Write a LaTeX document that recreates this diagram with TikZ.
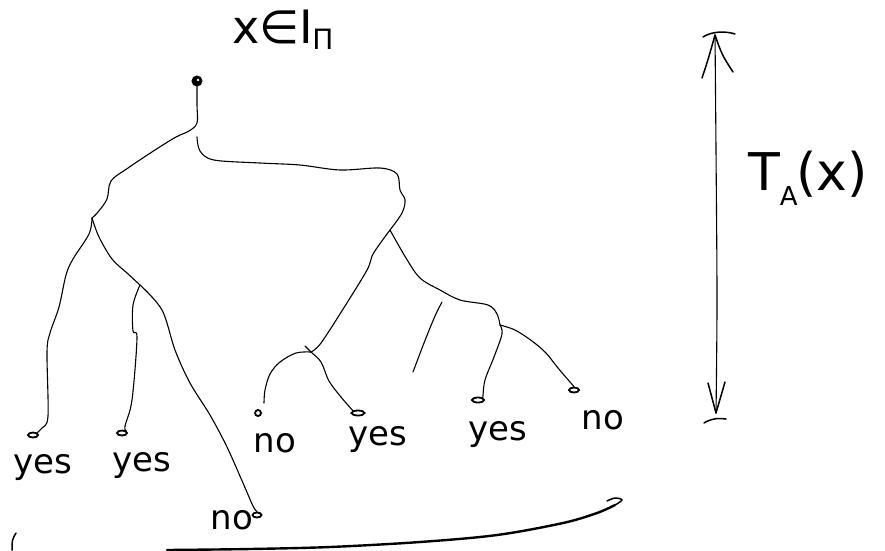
\documentclass[tikz,border=0pt]{standalone}
\usepackage{fontspec}
\setmainfont{DejaVu Sans}
\usetikzlibrary{shapes.geometric}
\begin{document}
\begin{tikzpicture}[x=1pt,y=-1pt,
  branch/.style={line width=1.1pt, line cap=round, line join=round},
  pen/.style={line width=1.5pt, line cap=round, line join=round},
  leaf/.style={ellipse, draw, line width=1.8pt, minimum width=10pt, minimum height=5pt, inner sep=0pt},
  rootdot/.style={circle, draw, fill=black, line width=1pt, minimum size=10pt, inner sep=0pt},
  answer/.style={font=\fontsize{34}{34}\selectfont, inner sep=0pt},
  hand/.style={smooth, tension=0.55}
]
\useasboundingbox[fill=white] (0,0) rectangle (885,550);

% ---- root and its label
\node[rootdot] (root) at (197,81) {};
\fill[white] (root.center) ++(1,-1) circle (1.3pt);
\node[inner sep=0pt] (title) at (283,30)
  {\fontsize{46}{46}\selectfont x∈I\kern-1pt\raisebox{-6pt}{\fontsize{28}{28}\selectfont Π}};

% ---- inner branching points
\coordinate (rootR) at (197,137);
\coordinate (A) at (92,218);
\coordinate (C) at (140,285);
\coordinate (B) at (390,230);
\coordinate (E) at (311,352);
\coordinate (F) at (500,325);

% ---- leaves
\node[leaf] (L1) at (33,435) {};
\node[leaf] (L2) at (122,433) {};
\node[leaf, minimum width=9pt] (L3) at (257,515) {};
\node[leaf, minimum width=6pt, minimum height=6pt] (L4) at (258,413) {};
\node[leaf, minimum width=13pt] (L5) at (358,413) {};
\node[leaf, minimum width=12pt] (L6) at (478,400) {};
\node[leaf] (L7) at (574,390) {};
\coordinate (L4end) at (264,403);

% ---- leaf answers
\node[answer] (a1) at (43,468) {yes};
\node[answer] (a2) at (142,466) {yes};
\node[answer] (a3) at (232,520) {no};
\node[answer] (a4) at (275,443) {no};
\node[answer] (a5) at (378,440) {yes};
\node[answer] (a6) at (498,435) {yes};
\node[answer] (a7) at (603,420) {no};

% ---- branches
\draw[branch] plot[hand] coordinates {(root.south) (197,105) (197,123) (189,131) (176,137) (155,150) (128,168) (111,181) (107,199) (98,212) (A)};
\draw[branch] plot[hand] coordinates {(rootR) (200,151) (214,160) (260,163) (300,165) (340,170) (380,168) (397,174) (400,190) (405,200) (402,213) (B)};
\draw[branch] plot[hand] coordinates {(A) (89,234) (73,259) (66,275) (59,307) (50,333) (47,352) (48,416) (42,428) (L1.north east)};
\draw[branch] plot[hand] coordinates {(A) (99,237) (112,259) (127,273) (C)};
\draw[branch] plot[hand] coordinates {(C) (133,305) (133,331) (137,338) (132,400) (125,426) (L2.north east)};
\draw[branch] plot[hand] coordinates {(C) (162,310) (175,350) (190,383) (210,415) (227,447) (243,483) (253,506) (L3.north)};
\draw[branch] plot[hand] coordinates {(B) (379,245) (372,256) (367,270) (345,306) (321,343) (E)};
\draw[branch] plot[hand] coordinates {(B) (406,258) (420,278) (440,290) (460,300) (488,305) (497,314) (F)};
\draw[branch] plot[hand] coordinates {(E) (296,353) (280,362) (270,374) (265,390) (L4end)};
\draw[branch] plot[hand] coordinates {(305,346) (E) (321,362) (329,381) (341,397) (L5.north west)};
\draw[branch] plot[hand] coordinates {(F) (502,334) (494,357) (485,380) (L6.north east)};
\draw[branch] plot[hand] coordinates {(F) (515,330) (532,341) (546,353) (558,368) (L7.north)};

% ---- loose stroke between the right subtrees
\coordinate (s1) at (442,302);
\coordinate (s2) at (413,372);
\draw[branch] plot[hand] coordinates {(s1) (435,316) (424,343) (s2)};

% ---- height marker on the right
\coordinate (top) at (715,35);
\coordinate (bot) at (716,413);
\draw[branch] plot[hand] coordinates {(top) (716,150) (717,300) (bot)};
\draw[pen] (702,78) .. controls (708,60) .. (top) .. controls (722,55) .. (733,72);
\draw[pen] (708,383) .. controls (712,398) .. (bot) .. controls (720,398) .. (725,382);
\draw[pen] (703,37) .. controls (712,31) and (726,31) .. (735,34);
\draw[pen] (704,423) .. controls (712,418) and (720,418) .. (726,419);
\node[inner sep=0pt] (height) at (808,178)
  {\fontsize{52}{52}\selectfont T\raisebox{-15pt}{\fontsize{26}{26}\selectfont A}\kern-1pt(x)};

% ---- brace underneath the leaves
\draw[pen] (16,533) .. controls (12,540) .. (12,550);
\draw[line width=2.4pt, line cap=round, line join=round] plot[hand] coordinates {(167,550) (250,549) (330,547) (420,542) (497,535) (563,523) (597,513) (615,505)};
\draw[pen] plot[hand] coordinates {(615,505) (622,500) (615,498) (607,501)};
\end{tikzpicture}
\end{document}
